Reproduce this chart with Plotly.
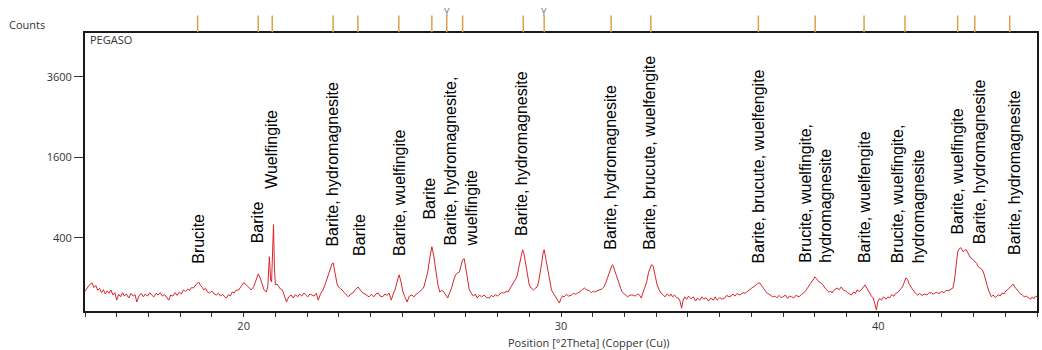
import numpy as np
import plotly.graph_objects as go

# Diffractogram: position (deg 2theta) and intensity (counts)
two_theta = [
    15.00, 15.05, 15.10, 15.15, 15.22, 15.28, 15.34, 15.40, 15.46, 15.52, 15.58, 15.64, 15.70, 15.76, 15.82, 15.88, 15.94,
    16.00, 16.06, 16.12, 16.18, 16.24, 16.30, 16.38, 16.45, 16.52, 16.58, 16.63, 16.70, 16.77, 16.84, 16.90, 16.97,
    17.04, 17.10, 17.17, 17.24, 17.30, 17.37, 17.44, 17.50, 17.57, 17.64, 17.70, 17.77, 17.84, 17.90, 17.97,
    18.04, 18.10, 18.17, 18.24, 18.30, 18.36, 18.42, 18.50, 18.58, 18.64, 18.70, 18.74, 18.80, 18.86, 18.92,
    19.00, 19.07, 19.14, 19.20, 19.27, 19.34, 19.40, 19.46, 19.52, 19.58, 19.64, 19.70, 19.76, 19.84, 19.92,
    20.00, 20.07, 20.15, 20.24, 20.32, 20.40, 20.46, 20.52, 20.58, 20.64, 20.71, 20.76, 20.81, 20.85, 20.88, 20.91, 20.94, 20.97,
    21.00, 21.05, 21.10, 21.16, 21.22, 21.28, 21.35, 21.42, 21.50, 21.56, 21.63, 21.70, 21.76, 21.83, 21.90, 21.96,
    22.02, 22.09, 22.15, 22.22, 22.29, 22.35, 22.42, 22.50, 22.58, 22.65, 22.72, 22.78, 22.82, 22.88, 22.95,
    23.02, 23.10, 23.17, 23.24, 23.30, 23.37, 23.44, 23.52, 23.60, 23.67, 23.75, 23.82, 23.88, 23.95,
    24.02, 24.10, 24.17, 24.24, 24.30, 24.38, 24.45, 24.52, 24.58, 24.65, 24.71, 24.77, 24.84, 24.90, 24.96,
    25.02, 25.08, 25.15, 25.22, 25.30, 25.37, 25.44, 25.50, 25.57, 25.63, 25.68, 25.75, 25.80, 25.87, 25.93, 25.99,
    26.05, 26.12, 26.18, 26.25, 26.33, 26.38, 26.43, 26.49, 26.55, 26.62, 26.68, 26.74, 26.80, 26.86, 26.90, 26.95,
    27.00, 27.05, 27.11, 27.17, 27.24, 27.30, 27.36, 27.43, 27.50, 27.58, 27.65, 27.74, 27.80, 27.87, 27.93,
    28.00, 28.05, 28.12, 28.20, 28.27, 28.33, 28.37, 28.44, 28.50, 28.56, 28.61, 28.66, 28.71, 28.76, 28.79, 28.83, 28.88, 28.94,
    29.00, 29.06, 29.13, 29.19, 29.25, 29.30, 29.35, 29.40, 29.44, 29.47, 29.52, 29.56, 29.60, 29.65, 29.70, 29.76, 29.82, 29.88, 29.95,
    30.00, 30.05, 30.10, 30.17, 30.24, 30.33, 30.40, 30.47, 30.53, 30.58, 30.65, 30.70, 30.74, 30.80, 30.86, 30.90, 30.96,
    31.02, 31.06, 31.12, 31.20, 31.28, 31.35, 31.42, 31.48, 31.55, 31.60, 31.63, 31.68, 31.73, 31.77, 31.83, 31.88, 31.93,
    32.00, 32.06, 32.10, 32.18, 32.27, 32.34, 32.42, 32.48, 32.53, 32.58, 32.64, 32.70, 32.76, 32.80, 32.85, 32.90, 32.96,
    33.03, 33.09, 33.15, 33.22, 33.28, 33.35, 33.42, 33.46, 33.52, 33.58, 33.64, 33.70, 33.75, 33.80, 33.85, 33.90, 33.96,
    34.02, 34.10, 34.17, 34.24, 34.30, 34.37, 34.44, 34.50, 34.57, 34.65, 34.72, 34.80, 34.86, 34.92,
    35.00, 35.08, 35.16, 35.22, 35.29, 35.36, 35.42, 35.48, 35.55, 35.61, 35.68, 35.74, 35.80, 35.85, 35.92,
    36.00, 36.07, 36.14, 36.20, 36.26, 36.32, 36.38, 36.42, 36.48, 36.55, 36.60, 36.67, 36.74, 36.80, 36.87, 36.94,
    37.00, 37.07, 37.14, 37.20, 37.27, 37.33, 37.40, 37.46, 37.50, 37.57, 37.65, 37.72, 37.80, 37.87, 37.94,
    38.00, 38.03, 38.08, 38.14, 38.19, 38.25, 38.32, 38.38, 38.44, 38.50, 38.54, 38.60, 38.66, 38.70, 38.77, 38.83, 38.90, 38.96,
    39.03, 39.09, 39.15, 39.22, 39.28, 39.33, 39.40, 39.46, 39.52, 39.58, 39.64, 39.71, 39.78, 39.84, 39.90, 39.94, 39.98,
    40.04, 40.10, 40.17, 40.24, 40.30, 40.35, 40.42, 40.49, 40.55, 40.60, 40.66, 40.72, 40.76, 40.82, 40.87, 40.92, 40.98,
    41.05, 41.11, 41.17, 41.24, 41.30, 41.37, 41.46, 41.53, 41.60, 41.68, 41.75, 41.82, 41.88, 41.93,
    42.00, 42.07, 42.14, 42.20, 42.27, 42.35, 42.40, 42.45, 42.50, 42.55, 42.60, 42.64, 42.67, 42.72, 42.77, 42.83, 42.90, 42.97,
    43.05, 43.10, 43.15, 43.20, 43.28, 43.33, 43.37, 43.42, 43.47, 43.52, 43.56, 43.62, 43.68, 43.72, 43.78, 43.84, 43.90, 43.96,
    44.02, 44.08, 44.14, 44.20, 44.25, 44.30, 44.36, 44.41, 44.48, 44.54, 44.60, 44.66, 44.73, 44.80, 44.85, 44.90, 44.95,
    45.00,
]
counts = [
    45, 52, 62, 70, 77, 58, 66, 48, 55, 40, 50, 36, 46, 38, 49, 33, 40,
    20, 35, 28, 40, 30, 36, 25, 38, 30, 34, 16, 30, 38, 28, 36, 30,
    40, 33, 28, 38, 33, 40, 30, 35, 28, 20, 33, 30, 40, 32, 42,
    36, 49, 44, 52, 48, 58, 56, 70, 81, 66, 58, 49, 55, 42, 39,
    45, 36, 33, 38, 30, 35, 28, 25, 34, 30, 42, 39, 48, 49, 62,
    77, 70, 60, 49, 62, 95, 121, 100, 70, 50, 42, 60, 233, 90, 81, 250, 540, 150,
    68, 72, 60, 52, 49, 30, 16, 28, 33, 25, 34, 28, 36, 30, 39, 33,
    28, 36, 33, 30, 38, 20, 36, 49, 75, 110, 150, 180, 189, 130, 68,
    56, 49, 40, 33, 28, 36, 39, 50, 60, 50, 39, 36, 33, 28,
    35, 28, 36, 39, 30, 28, 36, 32, 39, 20, 35, 49, 85, 116, 80,
    42, 28, 16, 30, 33, 28, 36, 39, 45, 52, 60, 95, 132, 230, 315, 240,
    144, 70, 42, 48, 39, 30, 25, 40, 56, 90, 116, 125, 132, 180, 210, 218,
    150, 81, 50, 39, 30, 36, 25, 33, 28, 33, 26, 25, 32, 28, 34,
    30, 33, 40, 39, 44, 42, 49, 60, 77, 90, 105, 150, 196, 260, 289, 260, 196, 110,
    68, 56, 49, 55, 60, 85, 127, 200, 270, 289, 220, 170, 132, 80, 49, 38, 28, 22, 14,
    24, 30, 28, 35, 30, 33, 38, 35, 40, 42, 48, 52, 56, 50, 48, 46, 40,
    45, 42, 46, 49, 52, 60, 80, 105, 150, 170, 176, 150, 120, 105, 75, 55, 42,
    36, 30, 28, 33, 33, 30, 36, 32, 25, 39, 55, 81, 130, 156, 176, 170, 120,
    68, 50, 39, 33, 28, 36, 30, 36, 28, 33, 26, 25, 18, 6, 20, 28, 22,
    30, 23, 28, 18, 25, 20, 28, 22, 26, 18, 25, 20, 28, 20,
    26, 22, 25, 32, 28, 30, 36, 30, 38, 33, 36, 40, 38, 42, 50,
    55, 60, 68, 75, 77, 66, 55, 49, 40, 36, 33, 28, 30, 25, 32, 26,
    28, 33, 24, 30, 28, 25, 32, 30, 28, 34, 39, 48, 60, 75, 90,
    105, 100, 90, 80, 77, 70, 55, 49, 42, 45, 39, 48, 52, 56, 50, 60, 48, 46,
    40, 36, 33, 42, 38, 49, 44, 49, 60, 68, 55, 39, 30, 25, 10, 4, 16,
    24, 20, 28, 22, 28, 25, 34, 30, 38, 39, 45, 55, 60, 85, 100, 92, 70,
    56, 45, 38, 33, 38, 32, 36, 33, 40, 39, 35, 42, 38, 39,
    44, 40, 48, 46, 52, 56, 90, 176, 272, 300, 306, 290, 272, 285, 289, 260, 225, 215,
    196, 185, 163, 155, 144, 120, 100, 70, 49, 36, 28, 33, 26, 28, 34, 30, 39, 36,
    46, 50, 56, 66, 72, 60, 50, 42, 36, 33, 28, 30, 25, 22, 28, 23, 30,
    28,
]

# Reference pattern line positions (deg 2theta) and the two flagged with "Y"
ref_lines = [18.55, 20.46, 20.90, 22.82, 23.60, 24.89, 25.93, 26.40, 26.90, 28.81,
             29.47, 31.58, 32.83, 36.22, 38.01, 39.55, 40.84, 42.50, 43.04, 44.14]
flagged_lines = [26.40, 29.47]

# Phase labels and the peak positions they point at
phase_labels = [
    "Brucite", "Barite", "Wuelfingite", "Barite, hydromagnesite", "Barite",
    "Barite, wuelfingite", "Barite", "Barite, hydromagnesite,<br>wuelfingite",
    "Barite, hydromagnesite", "Barite, hydromagnesite", "Barite, brucute, wuelfengite",
    "Barite, brucute, wuelfengite", "Brucite, wuelfingite,<br>hydromagnesite",
    "Barite, wuelfengite", "Brucite, wuelfingite,<br>hydromagnesite",
    "Barite, wuelfingite", "Barite, hydromagnesite", "Barite, hydromagnesite",
]
label_x = [18.55, 20.43, 20.87, 22.79, 23.63, 24.89, 25.86, 26.84, 28.75, 31.55,
           32.80, 36.22, 38.01, 39.55, 40.93, 42.50, 43.19, 44.29]

y_ticks = [400, 1600, 3600]
x_ticks = [20, 30, 40]

# Label baselines (paper fraction), one per label
label_base = [0.165, 0.241, 0.435, 0.227, 0.194, 0.194, 0.324, 0.227, 0.266, 0.216,
              0.216, 0.169, 0.169, 0.169, 0.169, 0.270, 0.237, 0.198]

# Square-root intensity axis
sqrt_counts = np.sqrt(np.array(counts, dtype=float))

fig = go.Figure()
fig.add_trace(go.Scatter(
    x=two_theta, y=sqrt_counts, mode="lines",
    line=dict(color="#d8262b", width=1),
    hoverinfo="skip", showlegend=False,
))

tick_font = dict(family="Open Sans, Noto Sans, sans-serif", size=11, color="#333333")

for xv in ref_lines:
    fig.add_shape(type="line", xref="x", yref="paper", x0=xv, x1=xv, y0=1.003, y1=1.063,
                  line=dict(color="#dba247", width=1.5))
for xv in flagged_lines:
    fig.add_annotation(x=xv, y=1.077, xref="x", yref="paper", text="Y", showarrow=False,
                       yanchor="middle",
                       font=dict(family="Open Sans, sans-serif", size=10, color="#7a7a7a"))

for txt, xv, yb in zip(phase_labels, label_x, label_base):
    fig.add_annotation(x=xv, y=yb, xref="x", yref="paper", text=txt, showarrow=False,
                       textangle=-90, xanchor="center", yanchor="bottom", align="left",
                       font=dict(family="Liberation Sans, Arial, sans-serif", size=16, color="#000000"),
                       borderpad=0)

fig.add_annotation(x=-0.082, y=1.03, xref="paper", yref="paper", text="Counts", showarrow=False,
                   xanchor="left", yanchor="middle", font=tick_font)
fig.add_annotation(x=0.003, y=0.975, xref="paper", yref="paper", text="PEGASO", showarrow=False,
                   xanchor="left", yanchor="middle", font=tick_font)
fig.add_annotation(x=0.529, y=-0.115, xref="paper", yref="paper",
                   text="Position [°2Theta] (Copper (Cu))", showarrow=False,
                   xanchor="center", yanchor="middle", font=tick_font)

fig.update_xaxes(
    range=[15, 45], tickvals=x_ticks, ticktext=[str(v) for v in x_ticks],
    ticks="outside", ticklen=4, tickcolor="#333333", tickfont=tick_font,
    minor=dict(dtick=1, ticks="outside", ticklen=4, tickcolor="#333333"),
    showline=True, linecolor="#1a1a1a", linewidth=2, mirror=True,
    showgrid=False, zeroline=False,
)
fig.update_yaxes(
    range=[1.77, 70.9], tickvals=np.sqrt(y_ticks), ticktext=[str(v) for v in y_ticks],
    ticks="outside", ticklen=9, tickcolor="#333333", tickfont=tick_font,
    showline=True, linecolor="#1a1a1a", linewidth=2, mirror=True,
    showgrid=False, zeroline=False,
)
fig.update_layout(
    width=1042, height=350,
    margin=dict(l=85, r=3, t=33, b=39),
    paper_bgcolor="white", plot_bgcolor="white",
)

fig.write_html("out.html")
